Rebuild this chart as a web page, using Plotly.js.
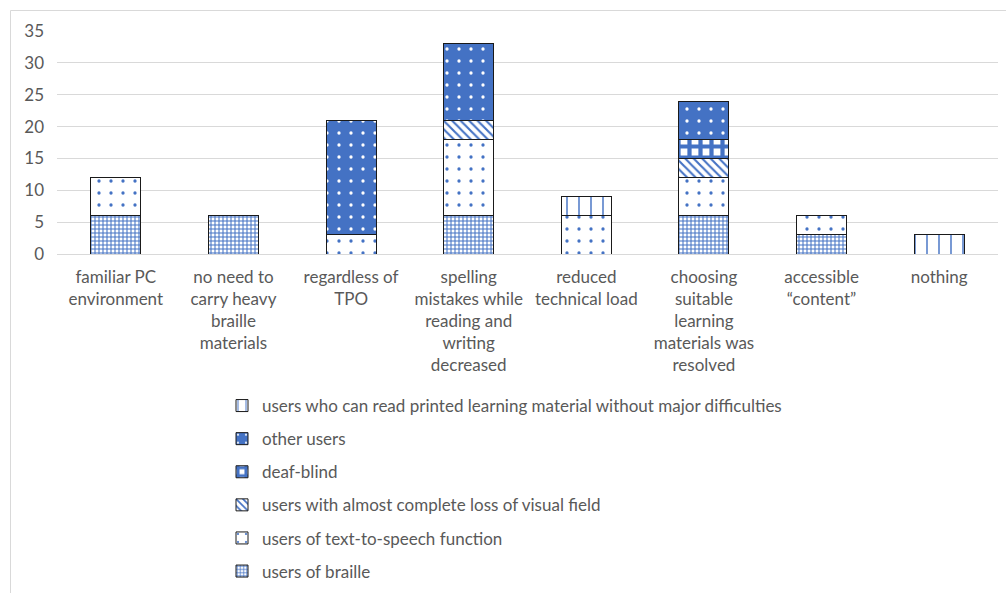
<!DOCTYPE html>
<html>
<head>
<meta charset="utf-8">
<script src="https://cdn.plot.ly/plotly-3.0.1.min.js"></script>
<style>
html,body{margin:0;padding:0;background:#fff;}
#chart{width:1006px;height:593px;}
</style>
</head>
<body>
<div id="chart"></div>
<script>
const categories = [
  "familiar PC<br>environment",
  "no need to<br>carry heavy<br>braille<br>materials",
  "regardless of<br>TPO",
  "spelling<br>mistakes while<br>reading and<br>writing<br>decreased",
  "reduced<br>technical load",
  "choosing<br>suitable<br>learning<br>materials was<br>resolved",
  "accessible<br>“content”",
  "nothing"
];
const seriesNames = [
  "users of braille",
  "users of text-to-speech function",
  "users with almost complete loss of visual field",
  "deaf-blind",
  "other users",
  "users who can read printed learning material without major difficulties"
];
const braille   = [6, 6, 0, 6, 0, 6, 3, 0];
const tts       = [6, 0, 3, 12, 6, 6, 3, 0];
const lossField = [0, 0, 0, 3, 0, 3, 0, 0];
const deafBlind = [0, 0, 0, 0, 0, 3, 0, 0];
const others    = [0, 0, 18, 12, 0, 6, 0, 0];
const readers   = [0, 0, 0, 0, 3, 0, 0, 3];
const yTicks    = [0, 5, 10, 15, 20, 25, 30, 35];

const BLUE = "#4472C4";
const values = [braille, tts, lossField, deafBlind, others, readers];
const patterns = [
  {shape: "+", fgcolor: BLUE, bgcolor: "#ffffff", size: 4, solidity: 0.45},
  {shape: ".", fgcolor: BLUE, bgcolor: "#ffffff", size: 12, solidity: 0.06},
  {shape: "\\", fgcolor: BLUE, bgcolor: "#ffffff", size: 6, solidity: 0.35},
  {shape: "+", fgcolor: BLUE, bgcolor: "#ffffff", size: 11, solidity: 0.62},
  {shape: ".", fgcolor: "#ffffff", bgcolor: BLUE, size: 12, solidity: 0.06},
  {shape: "|", fgcolor: BLUE, bgcolor: "#ffffff", size: 12, solidity: 0.12}
];

const traces = seriesNames.map((name, i) => ({
  type: "bar",
  name: name,
  x: categories,
  y: values[i].map(v => v === 0 ? null : v),
  width: 0.425,
  legendgroup: "g" + i,
  legendrank: seriesNames.length - i,
  marker: {
    color: patterns[i].bgcolor,
    line: {color: "#1a1a1a", width: 1},
    pattern: Object.assign({fillmode: "replace"}, patterns[i])
  },
  hoverinfo: "name+y"
}));

const L = 57, R = 8, T = 31, B = 339, W = 1006, H = 593;
const pw = W - L - R, ph = H - T - B;
const FONT = "Lato, 'Open Sans', sans-serif";

const layout = {
  width: W, height: H,
  margin: {l: L, r: R, t: T, b: B, pad: 0, autoexpand: false},
  barmode: "stack",
  paper_bgcolor: "#ffffff",
  plot_bgcolor: "#ffffff",
  font: {family: FONT, size: 17, color: "#595959"},
  showlegend: true,
  legend: {
    x: (222 - L) / pw, xanchor: "left",
    y: (254 - 388) / ph, yanchor: "top",
    traceorder: "grouped",
    tracegroupgap: 8,
    font: {family: FONT, size: 17, color: "#595959"},
    bgcolor: "rgba(0,0,0,0)",
    itemwidth: 30
  },
  xaxis: {
    type: "category",
    showgrid: false,
    showline: false,
    ticks: "",
    tickfont: {family: FONT, size: 17, color: "#595959"},
    tickangle: 0,
    ticklabelstandoff: 11,
    automargin: false
  },
  yaxis: {
    range: [0, 35],
    tickvals: yTicks,
    ticktext: yTicks.map(String),
    showgrid: true,
    gridcolor: "#d9d9d9",
    gridwidth: 1,
    zeroline: true,
    zerolinecolor: "#d9d9d9",
    zerolinewidth: 1,
    showline: false,
    ticks: "",
    ticklabelstandoff: 12,
    tickfont: {family: FONT, size: 17, color: "#595959"},
    automargin: false
  },
  shapes: [{
    type: "rect", xref: "paper", yref: "paper", layer: "below",
    x0: (10.5 - L) / pw, x1: (W + 20 - L) / pw,
    y0: (H - B - (H + 20)) / ph, y1: (H - B - 10.5) / ph,
    line: {color: "#d9d9d9", width: 1}, fillcolor: "rgba(0,0,0,0)"
  }]
};

Plotly.newPlot("chart", traces, layout, {displayModeBar: false, staticPlot: false});
</script>
</body>
</html>
